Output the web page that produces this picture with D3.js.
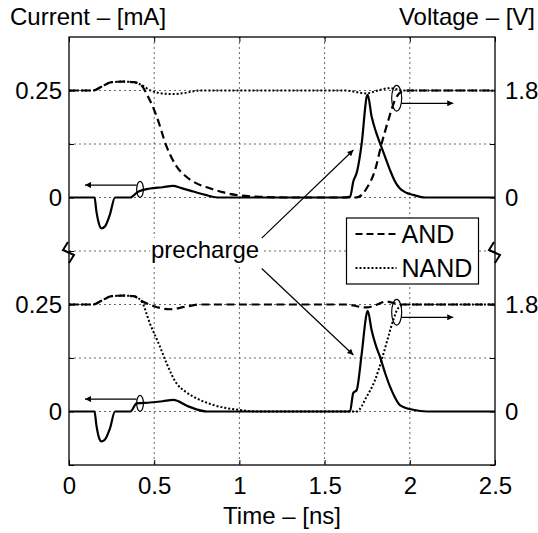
<!DOCTYPE html>
<html>
<head>
<meta charset="utf-8">
<script src="https://cdn.jsdelivr.net/npm/d3@7"></script>
<style>
  body { margin: 0; background: #fff; }
  svg text { font-family: "Liberation Sans", Arial, sans-serif; fill: #000; }
</style>
</head>
<body>
<svg id="chart" width="538" height="533"></svg>
<script>
// ---- data ----
const xTicks = [0, 0.5, 1, 1.5, 2, 2.5];
const currentTicks = [0, 0.25];
const voltageTicks = [0, 1.8];

// top panel: AND output switches
const tTopCur = [0, 0.15, 0.16, 0.175, 0.19, 0.21, 0.24, 0.27, 0.36, 0.4, 0.475, 0.55, 0.61, 0.66, 0.73, 0.8, 0.87, 1.6, 1.65, 1.668, 1.69, 1.718, 1.747, 1.753, 1.776, 1.8, 1.825, 1.855, 1.884, 1.91, 1.942, 1.98, 2.02, 2.09, 2.5];
const iTopCur = [0, 0, -0.03, -0.06, -0.072, -0.068, -0.04, 0, 0, 0.012, 0.021, 0.024, 0.027, 0.022, 0.014, 0.006, 0, 0, 0.002, 0.037, 0.06, 0.127, 0.235, 0.24, 0.189, 0.155, 0.127, 0.095, 0.064, 0.04, 0.021, 0.011, 0.006, 0, 0];

const tTopAnd = [0, 0.14, 0.2, 0.25, 0.32, 0.38, 0.42, 0.46, 0.515, 0.573, 0.632, 0.68, 0.73, 0.827, 0.9, 0.984, 1.12, 1.3, 1.68, 1.7, 1.747, 1.796, 1.835, 1.874, 1.913, 1.952, 2.0, 2.5];
const vTopAnd = [1.8, 1.8, 1.88, 1.94, 1.95, 1.94, 1.9, 1.72, 1.36, 0.855, 0.52, 0.37, 0.266, 0.155, 0.09, 0.042, 0.013, 0, 0, 0.01, 0.155, 0.46, 0.91, 1.3, 1.64, 1.78, 1.8, 1.8];

const tTopNand = [0, 0.14, 0.2, 0.25, 0.32, 0.38, 0.42, 0.48, 0.55, 0.612, 0.68, 0.77, 1.0, 1.62, 1.747, 1.8, 1.884, 1.96, 2.5];
const vTopNand = [1.8, 1.8, 1.88, 1.94, 1.95, 1.94, 1.9, 1.8, 1.75, 1.74, 1.76, 1.8, 1.8, 1.8, 1.75, 1.79, 1.84, 1.8, 1.8];

// bottom panel: NAND output switches
const tBotCur = [0, 0.15, 0.16, 0.175, 0.19, 0.21, 0.24, 0.27, 0.36, 0.397, 0.475, 0.55, 0.612, 0.7, 0.81, 1.6, 1.649, 1.668, 1.688, 1.718, 1.747, 1.753, 1.776, 1.8, 1.825, 1.855, 1.884, 1.91, 1.942, 2.02, 2.1, 2.5];
const iBotCur = [0, 0, -0.03, -0.06, -0.07, -0.066, -0.04, 0, 0, 0.019, 0.021, 0.024, 0.027, 0.012, 0, 0, 0, 0.043, 0.05, 0.136, 0.229, 0.235, 0.19, 0.155, 0.128, 0.09, 0.058, 0.035, 0.015, 0.004, 0, 0];

const tBotAnd = [0, 0.14, 0.2, 0.25, 0.32, 0.38, 0.426, 0.5, 0.593, 0.68, 0.77, 1.0, 1.62, 1.747, 1.8, 1.86, 1.95, 2.5];
const vBotAnd = [1.8, 1.8, 1.88, 1.94, 1.95, 1.94, 1.86, 1.77, 1.72, 1.76, 1.8, 1.8, 1.8, 1.75, 1.79, 1.85, 1.8, 1.8];

const tBotNand = [0, 0.14, 0.2, 0.25, 0.32, 0.38, 0.426, 0.475, 0.534, 0.573, 0.632, 0.68, 0.73, 0.847, 1.0, 1.1, 1.688, 1.747, 1.796, 1.835, 1.874, 1.903, 1.932, 1.97, 2.5];
const vBotNand = [1.8, 1.8, 1.88, 1.94, 1.95, 1.94, 1.85, 1.48, 1.09, 0.81, 0.47, 0.34, 0.25, 0.11, 0.025, 0, 0, 0.25, 0.53, 0.87, 1.26, 1.54, 1.74, 1.8, 1.8];

// ---- layout ----
const svg = d3.select('#chart');
const left = 69, right = 495, plotTop = 37, plotBottom = 465;
const mid = (plotTop + plotBottom) / 2;
const font = 24;

const x = d3.scaleLinear().domain([0, 2.5]).range([left, right]);
const panels = [
  {y0: plotTop, y1: mid, cur: [tTopCur, iTopCur], and: [tTopAnd, vTopAnd], nand: [tTopNand, vTopNand]},
  {y0: mid, y1: plotBottom, cur: [tBotCur, iBotCur], and: [tBotAnd, vBotAnd], nand: [tBotNand, vBotNand]},
];
panels.forEach(p => {
  p.yI = d3.scaleLinear().domain([-0.125, 0.375]).range([p.y1, p.y0]);
  p.yV = d3.scaleLinear().domain([-0.9, 2.7]).range([p.y1, p.y0]);
});

const defs = svg.append('defs');
defs.append('marker')
    .attr('id', 'head')
    .attr('viewBox', '0 0 10 10')
    .attr('refX', 10).attr('refY', 5)
    .attr('markerWidth', 9).attr('markerHeight', 6)
    .attr('markerUnits', 'userSpaceOnUse')
    .attr('orient', 'auto')
    .append('path').attr('d', 'M0,0L10,5L0,10Z').attr('fill', '#000');

// grid
const gridStyle = sel => sel.attr('stroke', '#555').attr('stroke-width', 0.9).attr('stroke-dasharray', '2,3');
svg.append('g').selectAll('line')
    .data(xTicks.slice(1, -1))
    .enter().append('line')
    .attr('x1', d => x(d)).attr('x2', d => x(d))
    .attr('y1', plotTop).attr('y2', plotBottom)
    .call(gridStyle);

panels.forEach((p, k) => {
  const levels = k === 0 ? [0, 0.125, 0.25, -0.125] : [0, 0.125, 0.25];
  svg.append('g').selectAll('line')
      .data(levels)
      .enter().append('line')
      .attr('x1', left).attr('x2', right)
      .attr('y1', d => p.yI(d)).attr('y2', d => p.yI(d))
      .call(gridStyle);
});

// axes
panels.forEach(p => {
  const gl = svg.append('g').attr('transform', `translate(${left},0)`)
      .call(d3.axisLeft(p.yI).tickValues([-0.125, 0, 0.125, 0.25]).tickSize(-5).tickPadding(7)
          .tickFormat(d => currentTicks.includes(d) ? String(d) : ''));
  const gr = svg.append('g').attr('transform', `translate(${right},0)`)
      .call(d3.axisRight(p.yV).tickValues([-0.9, 0, 0.9, 1.8]).tickSize(-5).tickPadding(10)
          .tickFormat(d => voltageTicks.includes(d) ? String(d) : ''));
  [gl, gr].forEach(g => {
    g.select('.domain').remove();
    g.selectAll('text').attr('font-size', font).attr('font-family', null);
    g.selectAll('line').attr('stroke-width', 1);
  });
});

const gx = svg.append('g').attr('transform', `translate(0,${plotBottom})`)
    .call(d3.axisBottom(x).tickValues(xTicks).tickSize(-5).tickPadding(12).tickFormat(d => String(d)));
const gxt = svg.append('g').attr('transform', `translate(0,${plotTop})`)
    .call(d3.axisTop(x).tickValues(xTicks).tickSize(-5).tickFormat(''));
[gx, gxt].forEach(g => {
  g.select('.domain').remove();
  g.selectAll('text').attr('font-size', font).attr('font-family', null);
});

// curves
panels.forEach(p => {
  const mk = (ts, vs, sc) => d3.line().curve(d3.curveMonotoneX)
      .x((d, i) => x(ts[i])).y((d, i) => sc(vs[i]))(ts);
  svg.append('path').attr('d', mk(p.nand[0], p.nand[1], p.yV))
      .attr('fill', 'none').attr('stroke', '#000').attr('stroke-width', 2).attr('stroke-dasharray', '2,2');
  svg.append('path').attr('d', mk(p.and[0], p.and[1], p.yV))
      .attr('fill', 'none').attr('stroke', '#000').attr('stroke-width', 2.2).attr('stroke-dasharray', '8,4.5');
  svg.append('path').attr('d', mk(p.cur[0], p.cur[1], p.yI))
      .attr('fill', 'none').attr('stroke', '#000').attr('stroke-width', 2.2).attr('stroke-linejoin', 'round');

  // axis-pointer annotations (ellipse + arrow)
  svg.append('ellipse')
      .attr('cx', x(0.417)).attr('cy', p.yI(0.019)).attr('rx', 3.4).attr('ry', 8)
      .attr('fill', 'none').attr('stroke', '#000').attr('stroke-width', 1.2);
  svg.append('line')
      .attr('x1', x(0.397)).attr('y1', p.yI(0.029)).attr('x2', x(0.094)).attr('y2', p.yI(0.029))
      .attr('stroke', '#000').attr('stroke-width', 1.2).attr('marker-end', 'url(#head)');
  svg.append('ellipse')
      .attr('cx', x(1.923)).attr('cy', p.yV(1.67)).attr('rx', 5).attr('ry', 12.8)
      .attr('fill', 'none').attr('stroke', '#000').attr('stroke-width', 1.2);
  svg.append('line')
      .attr('x1', x(1.952)).attr('y1', p.yV(1.585)).attr('x2', x(2.255)).attr('y2', p.yV(1.585))
      .attr('stroke', '#000').attr('stroke-width', 1.2).attr('marker-end', 'url(#head)');
});

// frame
svg.append('rect').attr('x', left).attr('y', plotTop).attr('width', right - left).attr('height', plotBottom - plotTop)
    .attr('fill', 'none').attr('stroke', '#000').attr('stroke-width', 1.3);

// axis breaks
[left, right].forEach(ax => {
  svg.append('path')
      .attr('d', `M${ax - 1},${mid - 9}L${ax - 6},${mid - 1}L${ax + 5},${mid + 4}L${ax},${mid + 12}`)
      .attr('fill', 'none').attr('stroke', '#000').attr('stroke-width', 2);
});

// precharge label + arrows
svg.append('rect').attr('x', 150).attr('y', mid - 13).attr('width', 113).attr('height', 27).attr('fill', '#fff');
svg.append('text').attr('x', 151).attr('y', mid + 7).attr('font-size', font).text('precharge');
svg.append('line')
    .attr('x1', x(1.131)).attr('y1', panels[0].yI(-0.095)).attr('x2', x(1.669)).attr('y2', panels[0].yI(0.111))
    .attr('stroke', '#000').attr('stroke-width', 1.2).attr('marker-end', 'url(#head)');
svg.append('line')
    .attr('x1', x(1.131)).attr('y1', panels[1].yI(0.334)).attr('x2', x(1.669)).attr('y2', panels[1].yI(0.132))
    .attr('stroke', '#000').attr('stroke-width', 1.2).attr('marker-end', 'url(#head)');

// legend
const lg = svg.append('g').attr('transform', 'translate(346.5,218)');
lg.append('rect').attr('width', 132).attr('height', 66).attr('fill', '#fff').attr('stroke', '#000').attr('stroke-width', 1.2);
const legendItems = [{name: 'AND', dash: '7,4', w: 2.2}, {name: 'NAND', dash: '2,2', w: 2}];
legendItems.forEach((d, i) => {
  const yy = 16 + i * 34;
  lg.append('line').attr('x1', 9).attr('x2', 50).attr('y1', yy).attr('y2', yy)
      .attr('stroke', '#000').attr('stroke-width', d.w).attr('stroke-dasharray', d.dash);
  lg.append('text').attr('x', 55).attr('y', yy + 9).attr('font-size', font + 1).text(d.name);
});

// titles
svg.append('text').attr('x', 10).attr('y', 25).attr('font-size', font).text('Current – [mA]');
svg.append('text').attr('x', 535).attr('y', 25).attr('font-size', font).attr('text-anchor', 'end').text('Voltage – [V]');
svg.append('text').attr('x', (left + right) / 2).attr('y', 524).attr('font-size', font).attr('text-anchor', 'middle').text('Time – [ns]');
</script>
</body>
</html>
